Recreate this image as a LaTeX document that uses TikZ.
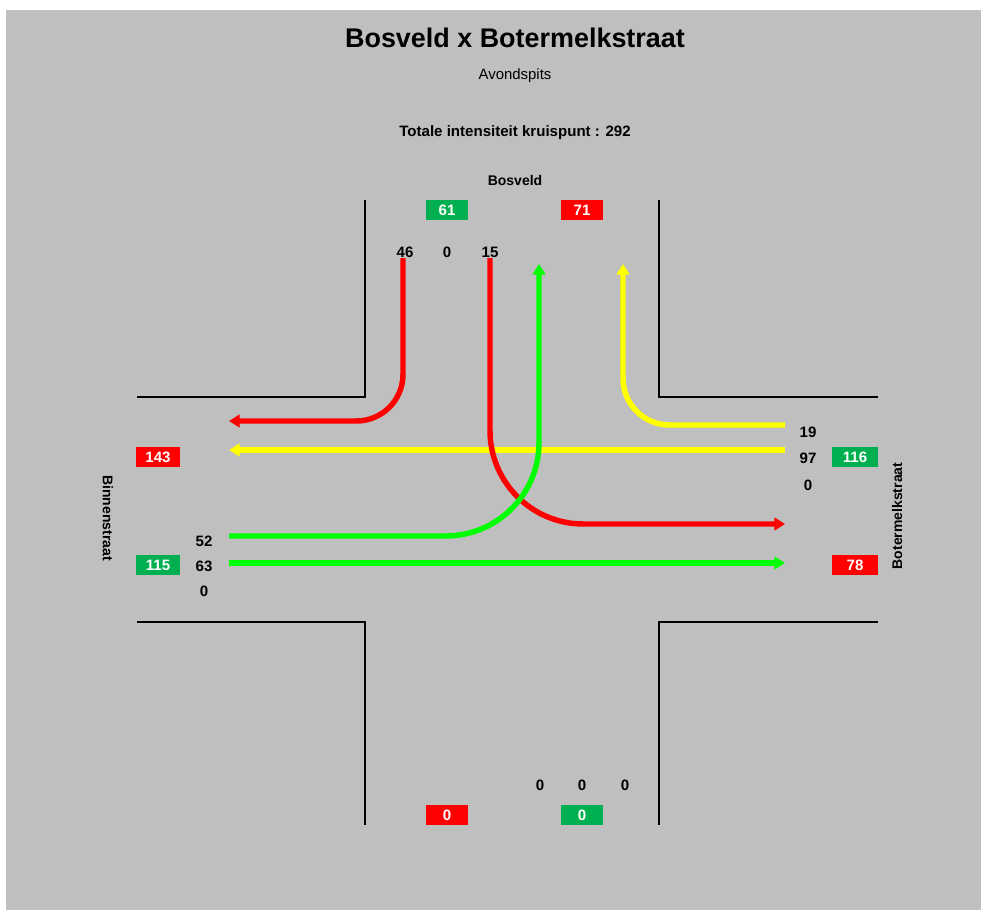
\documentclass[tikz,border=0pt]{standalone}
\usepackage{fontspec}
\setmainfont{Liberation Sans}
\usetikzlibrary{arrows.meta,calc,positioning}

\definecolor{bggray}{RGB}{191,191,191}
\definecolor{boxgreen}{RGB}{0,176,80}
\definecolor{boxred}{RGB}{255,0,0}
\definecolor{flowgreen}{RGB}{0,255,0}
\definecolor{flowyellow}{RGB}{255,255,0}
\definecolor{flowred}{RGB}{255,0,0}

\tikzset{
  volnum/.style={font=\bfseries\fontsize{11.3}{13}\selectfont, inner sep=0pt},
  inbox/.style={volnum, fill=boxgreen, text=white, minimum width=31.5pt, minimum height=14.5pt},
  outbox/.style={inbox, fill=boxred},
  street/.style={font=\bfseries\fontsize{10.5}{12}\selectfont, inner sep=0pt},
  road/.style={line width=1.3pt, black},
  flow/.style={line width=4.1pt, -{Triangle[length=8pt,width=9.5pt]}},
}

\begin{document}
\begin{tikzpicture}[x=0.75pt,y=-0.75pt]
\useasboundingbox (0,0) rectangle (981,910);
\fill[bggray] (6,10) rectangle (981,910);

\node[font=\bfseries\fontsize{20.2}{24}\selectfont] (title) at (515,38) {Bosveld x Botermelkstraat};
\node[font=\fontsize{11.2}{13}\selectfont] (subtitle) at (515,76) {Avondspits};
\node[volnum] (total) at (515,133) {Totale intensiteit kruispunt : 292};

\node[street] (lblN) at (515,180) {Bosveld};
\node[street, rotate=-90] (lblW) at (108,518) {Binnenstraat};
\node[street, rotate=90] (lblE) at (897,516) {Botermelkstraat};

\draw[road] (365,200) |- (137,397);
\draw[road] (659,200) |- (878,397);
\draw[road] (137,622) -| (365,825);
\draw[road] (878,622) -| (659,825);

\node[inbox] (nIn) at (447,210) {61};
\node[outbox] (nOut) at (582,210) {71};
\node[outbox, minimum width=32.5pt] (wOut) at (158,457) {143};
\node[inbox, minimum width=32.5pt] (wIn) at (158,565) {115};
\node[inbox, minimum width=35pt] (eIn) at (855,457) {116};
\node[outbox, minimum width=35pt] (eOut) at (855,565) {78};
\node[outbox] (sOut) at (447,815) {0};
\node[inbox] (sIn) at (582,815) {0};

\node[volnum] (north1) at (405,252) {46};
\node[volnum] (north2) at (447,252) {0};
\node[volnum] (north3) at (490,252) {15};
\node[volnum] (east1) at (808,432) {19};
\node[volnum] (east2) at (808,458) {97};
\node[volnum] (east3) at (808,485) {0};
\node[volnum] (west1) at (204,541) {52};
\node[volnum] (west2) at (204,566) {63};
\node[volnum] (west3) at (204,591) {0};
\node[volnum] (south1) at (540,785) {0};
\node[volnum] (south2) at (582,785) {0};
\node[volnum] (south3) at (625,785) {0};

\coordinate (nRightFrom) at (403,258);
\coordinate (nRightTo) at (229,421);
\coordinate (nLeftFrom) at (490,258);
\coordinate (nLeftTo) at (785,524);
\coordinate (eRightFrom) at (785,425);
\coordinate (eRightTo) at (623,264);
\coordinate (eStraightFrom) at (785,450);
\coordinate (eStraightTo) at (229,450);
\coordinate (wLeftFrom) at (229,536);
\coordinate (wLeftTo) at (539,264);
\coordinate (wStraightFrom) at (229,563);
\coordinate (wStraightTo) at (785,563);

\draw[flow, flowyellow] (eStraightFrom) -- (eStraightTo);
\draw[flow, flowyellow, rounded corners=35pt] (eRightFrom) -| (eRightTo);
\draw[flow, flowred, rounded corners=35pt] (nRightFrom) |- (nRightTo);
\draw[flow, flowred, rounded corners=70pt] (nLeftFrom) |- (nLeftTo);
\draw[flow, flowgreen, rounded corners=70pt] (wLeftFrom) -| (wLeftTo);
\draw[flow, flowgreen] (wStraightFrom) -- (wStraightTo);
\end{tikzpicture}
\end{document}
